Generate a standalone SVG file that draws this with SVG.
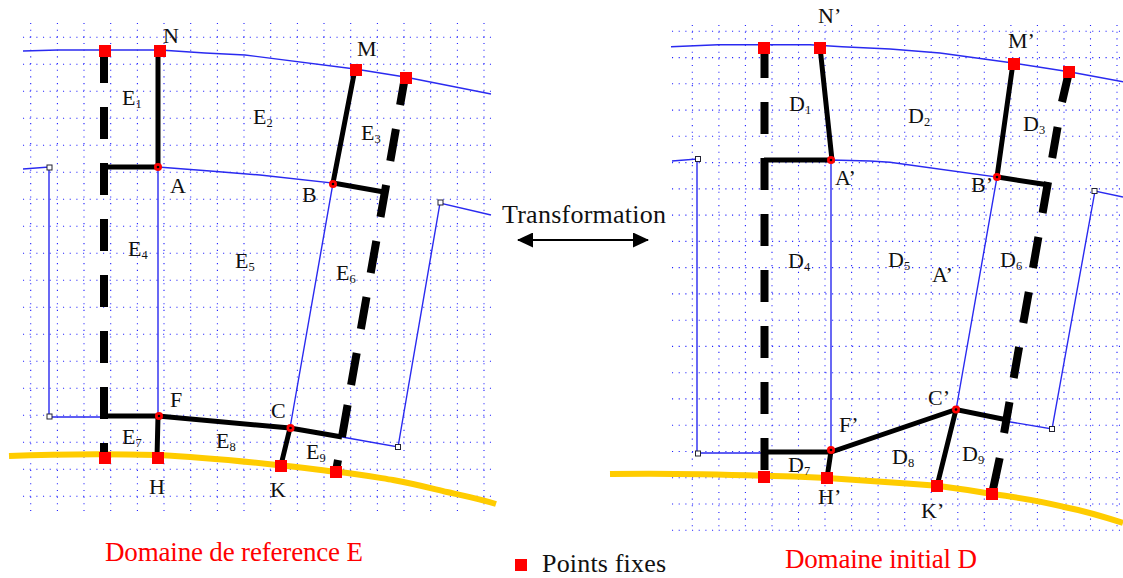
<svg xmlns="http://www.w3.org/2000/svg" width="1123" height="578" viewBox="0 0 1123 578">
<style>
text{font-family:"Liberation Serif","Times New Roman",serif;fill:#111}
.l{font-size:22px}
.s{font-size:12.5px}
.big{font-size:26px}
.red{font-size:27px;fill:#f00}
.grid{fill:none;stroke:#2020ff;stroke-width:1.1;stroke-dasharray:1.1 5.57}
.blue{fill:none;stroke:#2a2af0;stroke-width:1.4}
.blk{fill:none;stroke:#000;stroke-width:5}
.dash{fill:none;stroke:#000;stroke-width:8}
.yel{fill:none;stroke:#ffcc00;stroke-width:6}
.fix{fill:#f00}
.pt{fill:#f00;stroke:none}
.c{fill:#000}
.sq{fill:#fff;stroke:#223;stroke-width:1}
</style>
<defs>
<marker id="ah" viewBox="0 0 16 15" refX="15" refY="7.5" markerWidth="16" markerHeight="15" markerUnits="userSpaceOnUse" orient="auto-start-reverse"><path d="M0 0L16 7.5L0 15Z" fill="#000"/></marker>
<rect id="f" x="-6" y="-6" width="12" height="12" class="fix"/>
<g id="j"><circle r="4" class="pt"/><circle r="1.3" class="c"/></g>
<rect id="b" x="-2.5" y="-2.5" width="5" height="5" class="sq"/>
</defs>
<g id="grid">
<path class="grid" d="M23 37.3H491M23 64.3H491M23 91.3H491M23 118.3H491M23 145.3H491M23 172.3H491M23 199.3H491M23 226.3H491M23 253.3H491M23 280.3H491M23 307.3H491M23 334.3H491M23 361.3H491M23 388.3H491M23 415.3H491M23 442.3H491M23 469.3H491M23 496.3H491"/>
<path class="grid" d="M30.7 23V511M57.4 23V511M84 23V511M110.7 23V511M137.4 23V511M164 23V511M190.7 23V511M217.4 23V511M244 23V511M270.7 23V511M297.4 23V511M324 23V511M350.7 23V511M377.4 23V511M404 23V511M430.7 23V511M457.4 23V511M484 23V511"/>
<path class="grid" d="M672 31.3H1123M672 57.6H1123M672 83.8H1123M672 110.1H1123M672 136.3H1123M672 162.6H1123M672 188.9H1123M672 215.1H1123M672 241.4H1123M672 267.6H1123M672 293.9H1123M672 320.2H1123M672 346.4H1123M672 372.7H1123M672 398.9H1123M672 425.2H1123M672 451.5H1123M672 477.7H1123M672 504H1123M672 530.2H1123"/>
<path class="grid" d="M692.3 25V531M718.9 25V531M745.4 25V531M772 25V531M798.5 25V531M825 25V531M851.6 25V531M878.1 25V531M904.7 25V531M931.2 25V531M957.8 25V531M984.3 25V531M1010.9 25V531M1037.4 25V531M1064 25V531M1090.5 25V531M1117 25V531"/>
</g>
<g id="connectors">
<path class="blue" d="M23 51L58 50L100 50L160 50L205 53L245 55L355 69L405 77L491 94"/>
<path class="blue" d="M23 169L49 167V417H104M158 167L210 171L260 175L333 183L290 428M158 167V416M342 437L398 447L440 203L491 215"/>
<path class="blue" d="M671 46.7L718 44.7L810 44.7L842 46.7L890 49L940 53L1013 63L1069 71.7L1123 81.7"/>
<path class="blue" d="M672 161L697 159V453H764M831 160L870 161L890 162.3L997 177L956 410M831 160V450M1009 421.7L1052 429L1095 191L1123 197"/>
<path class="yel" d="M9 456C60 454 110 454 157 455C200 457 240 461 277 465C300 467 320 470 336 471.7C360 474 380 478 393 480C415 484 430 488 447 492C465 496 480 499 496 504"/>
<path class="yel" d="M610 474C660 473 710 474 763 475.7C790 476 810 477 827 478C860 480 900 483 937 485.7C955 488 975 491 992 494C1015 497 1040 501 1063 506.7C1085 511 1105 517 1123 523"/>
<path class="dash" d="M104 51V458" stroke-dasharray="32 24"/>
<path class="dash" d="M764.5 46V477" stroke-dasharray="32 24"/>
<path class="dash" d="M405 77L400.1 105M395.9 129L390.3 161M386.1 185L380.5 217M376.3 241L370.7 273M366.5 297L360.9 329M356.7 353L351.1 385M347.6 405L342 437M338 460L336 471"/>
<path class="dash" d="M1069 72L1062 102M1057.6 127L1052.2 158M1048 182L1042.6 213M1038.4 237L1033 268M1028.8 292L1023.3 323M1019.1 347L1013.7 378M1009.5 402L1004.1 433M999.7 458L992 494"/>
<path class="blk" d="M158 51V167H104M104 416H158L290 428L342 437M158 416L157 458M290 428L281 465M355 69L333 183L384 192"/>
<path class="blk" d="M820 47L832 160H764M764 452H831L956 409.5L1005 419.5M831 451L827 478M956 409.5L937 486M1013 63L997 177L1049 185"/>
<path fill="none" stroke="#000" stroke-width="2" d="M518 240H648" marker-start="url(#ah)" marker-end="url(#ah)"/>
</g>
<g id="points">
<use href="#f" x="105" y="51"/><use href="#f" x="160" y="51"/><use href="#f" x="356" y="70"/><use href="#f" x="406" y="78"/>
<use href="#f" x="105" y="458"/><use href="#f" x="158" y="458"/><use href="#f" x="281" y="466"/><use href="#f" x="336" y="472"/>
<use href="#f" x="764" y="48"/><use href="#f" x="820" y="48"/><use href="#f" x="1014" y="64"/><use href="#f" x="1069" y="72"/>
<use href="#f" x="764" y="477"/><use href="#f" x="827" y="478"/><use href="#f" x="937" y="486"/><use href="#f" x="992" y="494"/>
<use href="#f" x="521" y="565"/>
<use href="#j" x="158" y="167"/><use href="#j" x="333" y="184"/><use href="#j" x="159" y="416"/><use href="#j" x="290.500" y="428"/>
<use href="#j" x="831" y="160"/><use href="#j" x="997" y="177"/><use href="#j" x="831" y="450"/><use href="#j" x="956" y="409.500"/>
<use href="#b" x="49.500" y="167.500"/><use href="#b" x="440.500" y="202.500"/><use href="#b" x="49.500" y="416.500"/><use href="#b" x="398" y="447"/>
<use href="#b" x="698" y="159"/><use href="#b" x="1094.500" y="191"/><use href="#b" x="698" y="453.500"/><use href="#b" x="1052" y="429"/>
</g>
<g id="labels-e" class="l">
<text x="122" y="105">E<tspan class="s" dy="3">1</tspan></text>
<text x="253" y="124">E<tspan class="s" dy="3">2</tspan></text>
<text x="361" y="140">E<tspan class="s" dy="3">3</tspan></text>
<text x="128" y="256">E<tspan class="s" dy="3">4</tspan></text>
<text x="235" y="268">E<tspan class="s" dy="3">5</tspan></text>
<text x="336" y="280">E<tspan class="s" dy="3">6</tspan></text>
<text x="122" y="444">E<tspan class="s" dy="3">7</tspan></text>
<text x="216" y="448">E<tspan class="s" dy="3">8</tspan></text>
<text x="306" y="459">E<tspan class="s" dy="3">9</tspan></text>
<text x="163" y="43">N</text><text x="170" y="193">A</text><text x="302" y="202">B</text><text x="271" y="418">C</text>
<text x="170" y="407">F</text><text x="149" y="494">H</text><text x="270" y="497">K</text><text x="357" y="56">M</text>
</g>
<g id="labels-d" class="l">
<text x="789" y="111">D<tspan class="s" dy="3">1</tspan></text>
<text x="908" y="123">D<tspan class="s" dy="3">2</tspan></text>
<text x="1023" y="131">D<tspan class="s" dy="3">3</tspan></text>
<text x="788" y="268">D<tspan class="s" dy="3">4</tspan></text>
<text x="888" y="267">D<tspan class="s" dy="3">5</tspan></text>
<text x="1000" y="267">D<tspan class="s" dy="3">6</tspan></text>
<text x="788" y="472">D<tspan class="s" dy="3">7</tspan></text>
<text x="892" y="464">D<tspan class="s" dy="3">8</tspan></text>
<text x="962" y="461">D<tspan class="s" dy="3">9</tspan></text>
<text x="818" y="23">N’</text><text x="835" y="185">A’</text><text x="932" y="282">A’</text><text x="971" y="192">B’</text>
<text x="1008" y="48">M’</text><text x="928" y="405">C’</text><text x="839" y="432">F’</text><text x="818" y="504">H’</text><text x="921" y="518">K’</text>
</g>
<g id="captions">
<text class="big" x="502" y="223" textLength="164">Transformation</text>
<text class="big" x="542" y="572" textLength="124">Points fixes</text>
<text class="red" x="105" y="561" textLength="258">Domaine de reference E</text>
<text class="red" x="785" y="568" textLength="192">Domaine initial D</text>
</g>
</svg>
